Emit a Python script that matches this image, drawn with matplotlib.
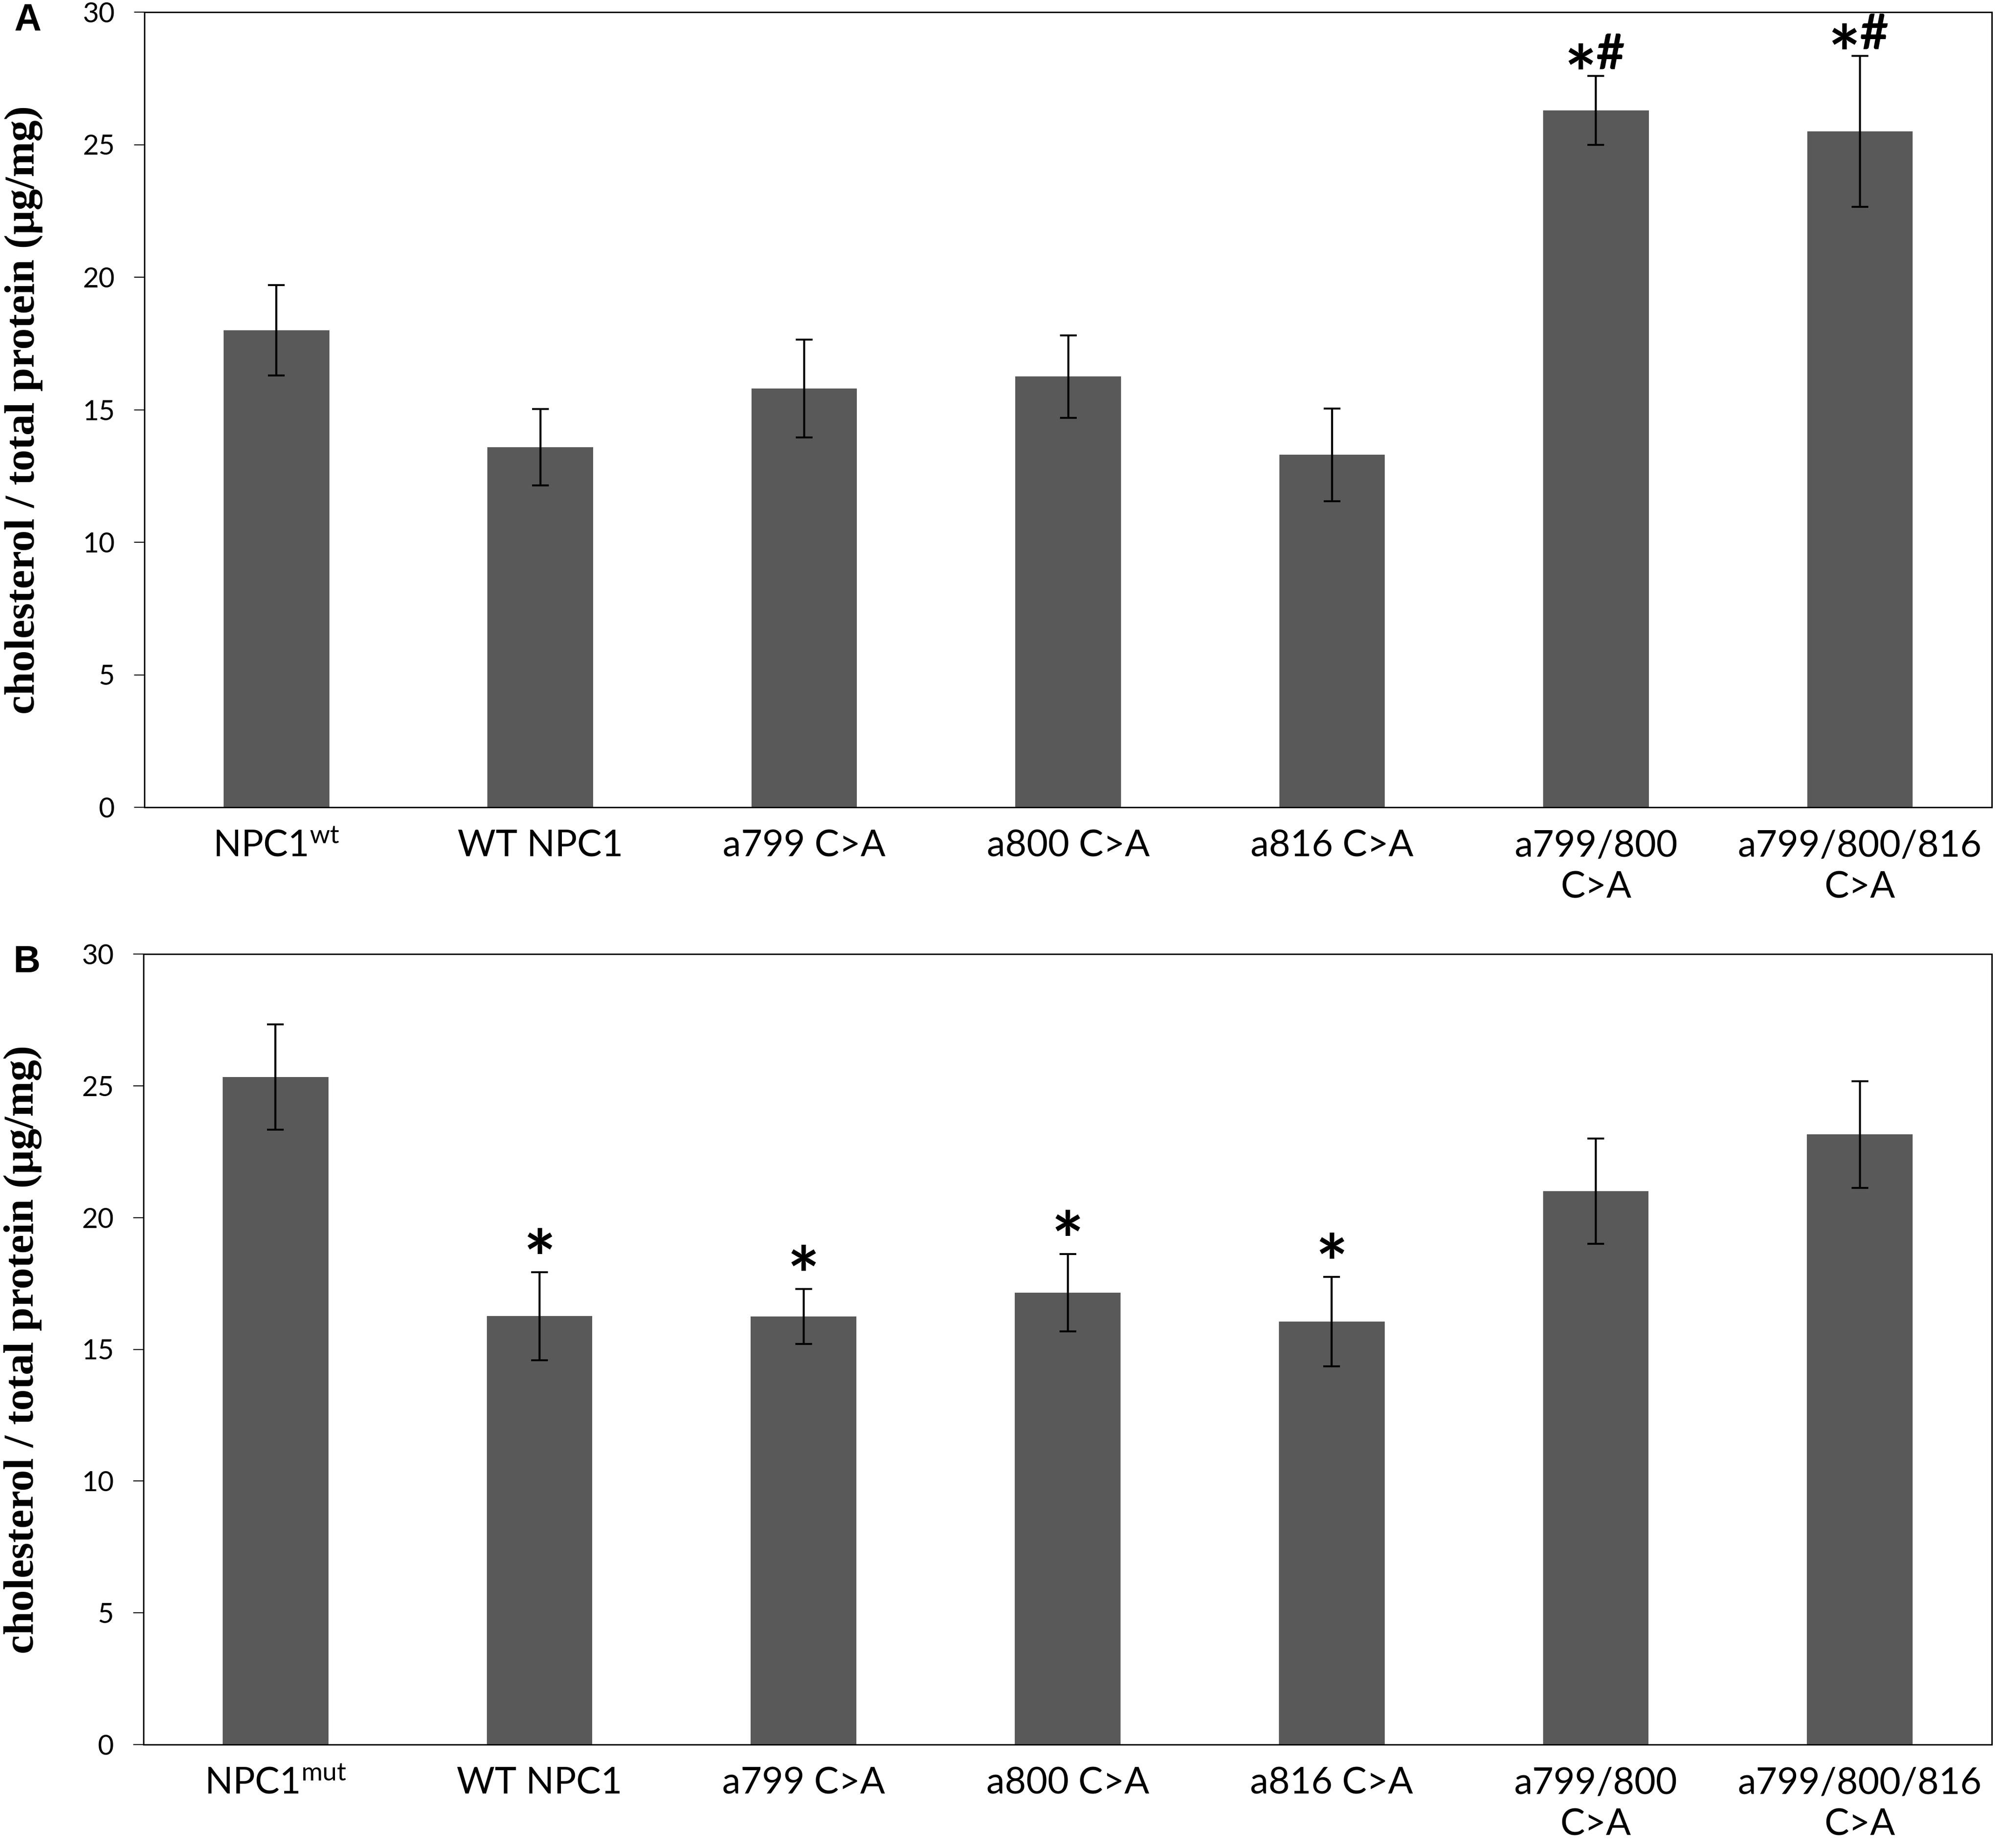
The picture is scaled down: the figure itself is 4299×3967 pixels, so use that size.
import matplotlib.pyplot as plt
import numpy as np

plt.rcParams['font.family'] = ['Lato', 'DejaVu Sans']
plt.rcParams['mathtext.fontset'] = 'custom'
plt.rcParams['mathtext.rm'] = 'Lato'
plt.rcParams['mathtext.it'] = 'Lato:italic'
plt.rcParams['mathtext.bf'] = 'Lato:bold'

# data
labels_a = [r'NPC1$^{\mathrm{wt}}$', 'WT NPC1', 'a799 C>A', 'a800 C>A', 'a816 C>A',
            'a799/800\nC>A', 'a799/800/816\nC>A']
mean_a = [18.0, 13.58, 15.8, 16.25, 13.3, 26.3, 25.5]
err_a = [1.7, 1.44, 1.85, 1.55, 1.75, 1.3, 2.85]
marks_a = ['', '', '', '', '', '*#', '*#']

labels_b = [r'NPC1$^{\mathrm{mut}}$', 'WT NPC1', 'a799 C>A', 'a800 C>A', 'a816 C>A',
            'a799/800\nC>A', 'a799/800/816\nC>A']
mean_b = [25.33, 16.26, 16.25, 17.15, 16.05, 21.0, 23.15]
err_b = [2.0, 1.67, 1.04, 1.47, 1.7, 2.0, 2.02]
marks_b = ['', '*', '*', '*', '*', '', '']

yticks = [0, 5, 10, 15, 20, 25, 30]
ylab = 'cholesterol / total protein (\u03bcg/mg)'

W, H = 4299, 3967
fig = plt.figure(figsize=(W / 100, H / 100), dpi=100)


def draw_panel(ax, labels, means, errs, marks, letter, star_off):
    x = np.arange(len(labels))
    ax.bar(x, means, width=0.4, color='#595959', zorder=2)
    ax.errorbar(x, means, yerr=errs, fmt='none', ecolor='black', elinewidth=3.2,
                capsize=13, capthick=3, zorder=3)
    ax.set_xlim(-0.5, len(labels) - 0.5)
    ax.set_ylim(0, 30)
    ax.set_yticks(yticks)
    ax.set_xticks(x)
    ax.set_xticklabels(labels, fontsize=57, linespacing=1.3)
    ax.tick_params(axis='x', length=0, pad=34)
    ax.tick_params(axis='y', labelsize=43, length=16, width=1.6, pad=30, direction='out')
    for s in ax.spines.values():
        s.set_linewidth(2.2)
        s.set_color('black')
    ax.set_ylabel(ylab, family='Liberation Serif', fontweight='bold', fontsize=66, va='center')
    ax.yaxis.set_label_coords(-0.0654, 0.5)
    for i, m in enumerate(marks):
        top = means[i] + errs[i]
        if m == '*#':
            ax.annotate('*', (i, top), xytext=(-24, star_off), textcoords='offset points',
                        ha='center', va='center', fontsize=118, fontweight='bold')
            ax.annotate('#', (i, top), xytext=(22, star_off + 38), textcoords='offset points',
                        ha='center', va='center', fontsize=76, fontweight='bold')
        elif m == '*':
            ax.annotate('*', (i, top), xytext=(0, star_off), textcoords='offset points',
                        ha='center', va='center', fontsize=118, fontweight='bold')
    ax.text(-0.063, 1.012, letter, transform=ax.transAxes, ha='center', va='top',
            family='Liberation Sans', fontweight='bold', fontsize=58)


ax_a = fig.add_axes([310 / W, 1 - 1733 / H, (4275 - 310) / W, (1733 - 26) / H])
draw_panel(ax_a, labels_a, mean_a, err_a, marks_a, 'A', -6)

ax_b = fig.add_axes([308 / W, 1 - 3745 / H, (4275 - 308) / W, (3745 - 2048) / H])
draw_panel(ax_b, labels_b, mean_b, err_b, marks_b, 'B', 12)

fig.savefig('out.png', dpi=100)
